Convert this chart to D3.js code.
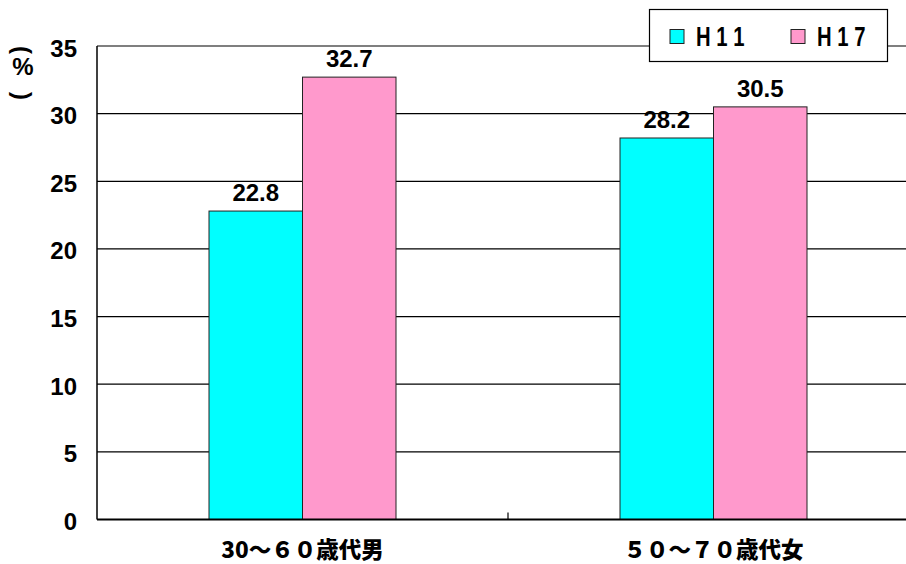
<!DOCTYPE html>
<html><head><meta charset="utf-8">
<script src="https://cdn.jsdelivr.net/npm/d3@7"></script>
<style>body{margin:0;background:#fff}svg{display:block}</style>
</head><body>
<svg id="c" width="906" height="564"></svg>
<script>
const categories = ["30～６０歳代男", "５０～７０歳代女"];
const series = ["H11", "H17"];
const legendLabels = ["H 1 1", "H 1 7"];
const valuesH11 = [22.8, 28.2];
const valuesH17 = [32.7, 30.5];
const yTicks = [0, 5, 10, 15, 20, 25, 30, 35];
const colors = ["#00FFFF", "#FF99CC"];

(function(){
const svg = d3.select("#c");
const pLeft = 97, pRight = 919, pTop = 46, pBottom = 519.5;
const y = d3.scaleLinear().domain([0, 35]).range([pBottom, pTop]);
const x0 = d3.scaleBand().domain(categories).range([pLeft, pRight]);
const bw = x0.bandwidth();
const gw = 187;
const x1 = d3.scaleBand().domain(series).range([bw/2 - gw/2, bw/2 + gw/2]);
const values = [valuesH11, valuesH17];
const latin = "Liberation Sans, Arial, sans-serif";

// gridlines
svg.append("g").selectAll("line").data(yTicks.filter(d=>d>0)).join("line")
  .attr("x1", pLeft).attr("x2", 906).attr("y1", d=>y(d)).attr("y2", d=>y(d))
  .attr("stroke", "#000").attr("stroke-width", 1.2);

// y tick labels
svg.append("g").selectAll("text").data(yTicks).join("text")
  .attr("x", 77).attr("y", d=>y(d) + 10.5)
  .attr("text-anchor", "end")
  .attr("font-family", latin).attr("font-weight", "bold")
  .attr("font-size", 24).text(d=>d);

// bars
const g = svg.append("g");
categories.forEach((c, i) => {
  series.forEach((s, j) => {
    const v = values[j][i];
    g.append("rect")
      .attr("x", x0(c) + x1(s)).attr("y", y(v))
      .attr("width", x1.bandwidth()).attr("height", y(0) - y(v))
      .attr("fill", colors[j]).attr("stroke", "#222").attr("stroke-width", 1);
    g.append("text")
      .attr("x", x0(c) + x1(s) + x1.bandwidth()/2).attr("y", y(v) - 10)
      .attr("text-anchor", "middle")
      .attr("font-family", latin).attr("font-weight", "bold")
      .attr("font-size", 24).text(v.toFixed(1));
  });
});

// axes lines
svg.append("line").attr("x1", pLeft).attr("x2", pLeft).attr("y1", pTop).attr("y2", pBottom)
  .attr("stroke", "#000").attr("stroke-width", 1.5);
svg.append("line").attr("x1", pLeft).attr("x2", 906).attr("y1", pBottom).attr("y2", pBottom)
  .attr("stroke", "#000").attr("stroke-width", 2);
// category separator ticks
svg.append("g").selectAll("line").data(categories.slice(1)).join("line")
  .attr("x1", d=>x0(d)).attr("x2", d=>x0(d)).attr("y1", pBottom).attr("y2", pBottom - 7)
  .attr("stroke", "#000").attr("stroke-width", 1.2);

// category labels
svg.append("g").selectAll("text").data(categories).join("text")
  .attr("x", d => x0(d) + bw/2).attr("y", 557.5)
  .attr("text-anchor", "middle")
  .attr("font-family", "Noto Sans CJK JP").attr("font-weight", 900)
  .attr("font-size", 22.5).text(d=>d);

// y axis title (vertical: rotated brackets, upright %)
const yt = svg.append("g").attr("font-family", latin).attr("font-weight", "bold").attr("text-anchor", "middle");
yt.append("text").attr("transform", "translate(22.5,50) rotate(90)")
  .attr("dominant-baseline", "central").attr("font-size", 24).text("(");
yt.append("text").attr("x", 23).attr("y", 75).attr("font-size", 24).text("%");
yt.append("text").attr("transform", "translate(22.5,96) rotate(90)")
  .attr("dominant-baseline", "central").attr("font-size", 24).text(")");

// legend
const lg = svg.append("g");
lg.append("rect").attr("x", 649.5).attr("y", 9.5).attr("width", 238).attr("height", 52)
  .attr("fill", "#fff").attr("stroke", "#000").attr("stroke-width", 1.2);
const lx = [670, 791];
series.forEach((s, j) => {
  lg.append("rect").attr("x", lx[j]).attr("y", 29.5).attr("width", 14).attr("height", 14)
    .attr("fill", colors[j]).attr("stroke", "#222").attr("stroke-width", 1);
  lg.append("text").attr("transform", `translate(${lx[j] + 26},46) scale(0.75,1)`)
    .attr("font-family", latin).attr("font-weight", "bold")
    .attr("font-size", 27).text(legendLabels[j]);
});
})();
</script>
</body></html>
